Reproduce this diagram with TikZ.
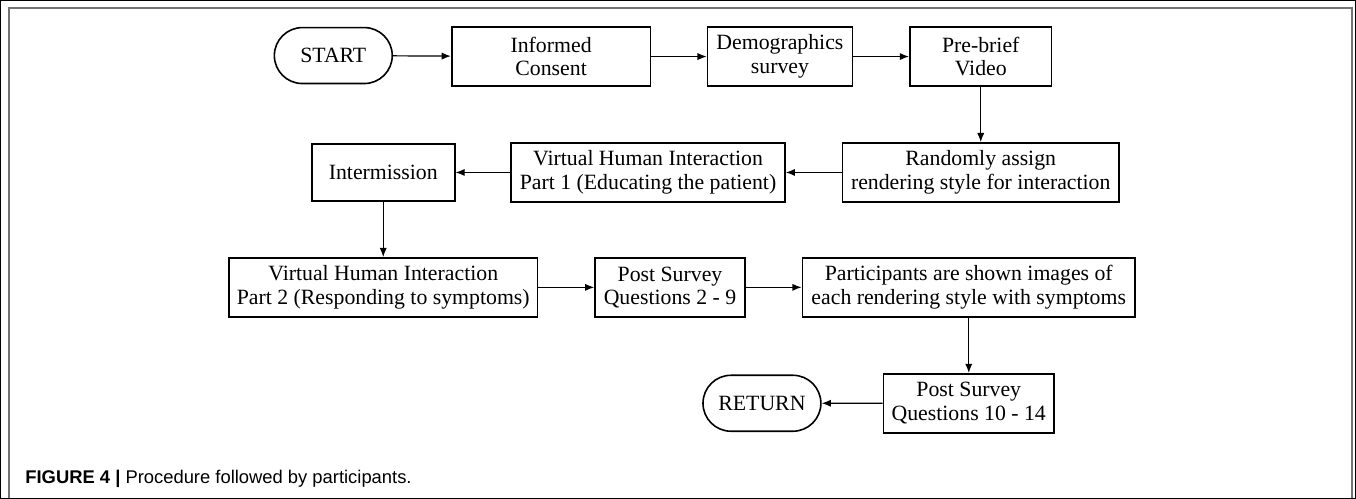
\documentclass[tikz,border=0pt]{standalone}
\usepackage{fontspec}
\setmainfont{Liberation Serif}
\setsansfont{Liberation Sans}
\usetikzlibrary{arrows.meta,positioning,shapes.misc}

\begin{document}
\begin{tikzpicture}[x=0.5pt, y=-0.5pt,
            every node/.style={draw, thick, align=center, minimum height=29.5pt,
                               inner sep=2pt, font=\fontsize{10.9}{11.8}\selectfont},
            terminal/.style={rounded rectangle, minimum width=63pt, minimum height=28pt},
            every path/.style={draw, semithick, -{Latex[length=4.6pt, width=3.6pt]}}]
        \useasboundingbox (0,0) rectangle (1356,498);
        % frame
        \draw[-, line width=1pt, black!55] (8,498) -- (8,7) -- (1353,7) -- (1353,498);
        % first row
        \node[terminal] (start) at (333,55) {START};
        \node[minimum width=99.5pt] (consent) at (551,56) {Informed\\Consent};
        \node[minimum width=72.5pt] (demo) at (780,56) {Demographics\\survey};
        \node[minimum width=71pt] (prebrief) at (981,56) {Pre-brief\\Video};
        % second row
        \node[minimum width=138.5pt] (assign) at (981,172) {Randomly assign\\rendering style for interaction};
        \node[minimum width=137pt] (vhione) at (648,172) {Virtual Human Interaction\\Part 1 (Educating the patient)};
        \node[minimum width=71.5pt, minimum height=28.5pt] (pause) at (383,172) {Intermission};
        % third row
        \node[minimum width=154.5pt] (vhitwo) at (383,287) {Virtual Human Interaction\\Part 2 (Responding to symptoms)};
        \node[minimum width=75pt] (postone) at (670,287) {Post Survey\\Questions 2 - 9};
        \node[minimum width=166.5pt] (shown) at (969,287) {Participants are shown images of\\each rendering style with symptoms};
        % last row
        \node[minimum width=85.5pt] (posttwo) at (969,403) {Post Survey\\Questions 10 - 14};
        \node[terminal] (return) at (762,403) {RETURN};
        % caption
        \node[draw=none, anchor=west, inner sep=0pt, minimum height=0pt,
              font=\sffamily\fontsize{9.2}{10}\selectfont] (caption) at (24,479)
              {\textbf{FIGURE 4 |} Procedure followed by participants.};
        % arrows
        \draw (start) -- (consent);
        \draw (consent) -- (demo);
        \draw (demo) -- (prebrief);
        \draw (prebrief) -- (assign);
        \draw (assign) -- (vhione);
        \draw (vhione) -- (pause);
        \draw (pause) -- (vhitwo);
        \draw (vhitwo) -- (postone);
        \draw (postone) -- (shown);
        \draw (shown) -- (posttwo);
        \draw (posttwo) -- (return);
\end{tikzpicture}
\end{document}
